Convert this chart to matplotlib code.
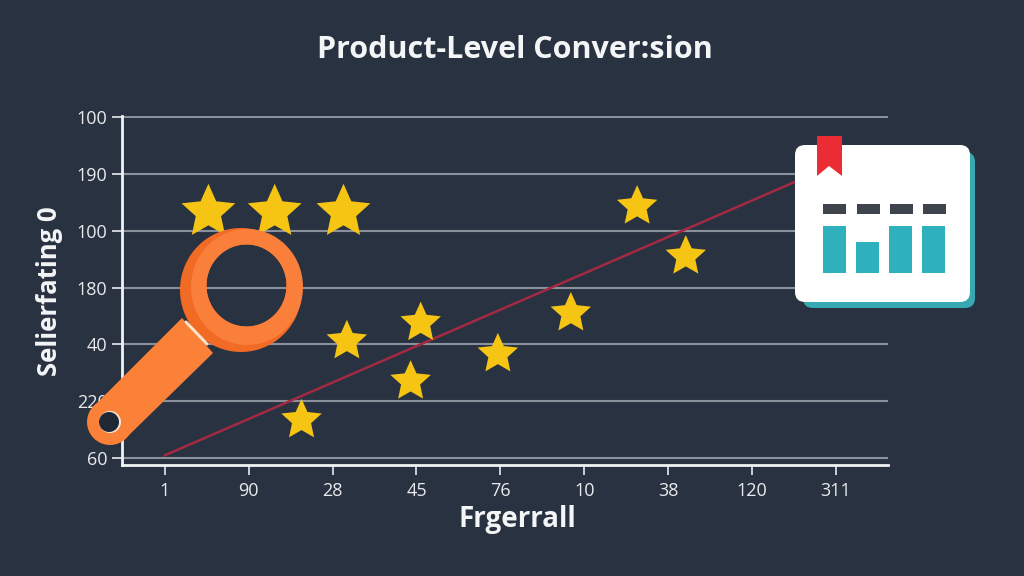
import numpy as np
import matplotlib
matplotlib.use("Agg")
import matplotlib.pyplot as plt
from matplotlib.patches import Circle, Polygon, FancyBboxPatch, Rectangle, PathPatch
from matplotlib.path import Path

# chart values, the axis labels are categories so they sit on index positions
x_labels = ['1', '90', '28', '45', '76', '10', '38', '120', '311']
y_labels = ['60', '220', '40', '180', '100', '190', '100']
star_x = [0.52, 1.31, 2.13, 2.17, 3.05, 2.93, 1.63, 3.97, 4.84, 5.63, 6.21]
star_y = [4.33, 4.33, 4.33, 2.06, 2.38, 1.35, 0.67, 1.83, 2.55, 4.43, 3.55]
trend_x = [0.0, 7.51]
trend_y = [0.05, 4.86]
icon_bars = [47, 31, 47, 47]

BG = '#293241'
plt.rcParams['font.family'] = ['Open Sans', 'DejaVu Sans']

fig = plt.figure(figsize=(10.24, 5.76), dpi=100, facecolor=BG)


def px_box(x0, y0, x1, y1):
    # pixel box (top-left origin) to figure fractions
    return [x0 / 1024, 1 - y1 / 576, (x1 - x0) / 1024, (y1 - y0) / 576]


# fatter than the built in '*' marker
ang = np.pi / 2 + np.arange(10) * np.pi / 5
rad = np.where(np.arange(10) % 2 == 0, 1.0, 0.47)
fat_star = Path(np.column_stack([rad * np.cos(ang), rad * np.sin(ang)]), closed=False)

ax = fig.add_axes(px_box(122, 116, 888, 465), facecolor=BG)
ax.set_xlim(-0.51, 8.62)
ax.set_ylim(-0.12, 6.02)

ax.set_yticks(range(len(y_labels)))
ax.set_yticklabels(y_labels)
ax.set_xticks(range(len(x_labels)))
ax.set_xticklabels(x_labels)
ax.tick_params(colors='#e8eaec', labelsize=13, length=7, width=1.2, pad=5)
ax.tick_params(axis='y', pad=3.5)
ax.grid(axis='y', color='#8b919b', lw=1.5)
ax.set_axisbelow(True)
for s in ['top', 'right']:
    ax.spines[s].set_visible(False)
for s in ['left', 'bottom']:
    ax.spines[s].set_color('#f2f3f4')
    ax.spines[s].set_linewidth(2)

ax.plot(trend_x, trend_y, color='#a32a42', lw=1.8, zorder=3, clip_on=False)
ax.scatter(star_x, star_y, marker=fat_star, color='#f6c413', zorder=4, linewidths=0,
           s=[1660, 1660, 1660, 940, 940, 940, 940, 940, 940, 940, 940], clip_on=False)

fig.text(515 / 1024, 1 - 50 / 576, 'Product-Level Conver:sion', color='#f4f5f6',
         fontsize=22, fontweight='bold', ha='center', va='center')
ax.set_xlabel('Frgerrall', color='#f4f5f6', fontsize=20, fontweight='bold')
ax.xaxis.set_label_coords((517 - 122) / 766, -(520 - 465) / 349, transform=ax.transAxes)
ax.xaxis.label.set_va('center')
ax.set_ylabel('Selierfating 0', color='#f4f5f6', fontsize=18.5, fontweight='bold')
ax.yaxis.set_label_coords(-(122 - 50) / 766, (465 - 291) / 349, transform=ax.transAxes)
ax.yaxis.label.set_va('center')

# illustration layer, pixel coordinates
over = fig.add_axes([0, 0, 1, 1], facecolor='none')
over.set_xlim(0, 1024)
over.set_ylim(576, 0)
over.axis('off')


def ring(cx, cy, rx, ry, hx, hy, hrx, hry, color, z):
    t = np.linspace(0, 2 * np.pi, 120)
    outer = np.column_stack([cx + rx * np.cos(t), cy + ry * np.sin(t)])
    inner = np.column_stack([hx + hrx * np.cos(t[::-1]), hy + hry * np.sin(t[::-1])])
    verts = np.vstack([outer, inner])
    codes = [Path.MOVETO] + [Path.LINETO] * 119 + [Path.MOVETO] + [Path.LINETO] * 119
    over.add_patch(PathPatch(Path(verts, codes), fc=color, ec='none', zorder=z))


# magnifier
over.add_patch(Polygon([(94, 406), (182, 318), (213, 353), (126, 438)], fc='#fb8038', ec='none', zorder=5))
over.add_patch(Circle((110, 422), 23, fc='#fb8038', ec='none', zorder=5))
over.add_patch(Circle((110, 422), 11, fc='#f7e6d8', ec='none', zorder=6))
over.add_patch(Circle((109, 422), 10, fc='#202835', ec='none', zorder=7))
ring(241, 290, 61, 62, 246.5, 285.5, 40, 41, '#f26b24', 6)
ring(247, 287, 56, 58, 246.5, 285.5, 40, 41, '#fa7f3b', 7)
over.plot([186, 207], [322, 344], color='#ffe3c8', lw=2.2, zorder=8, solid_capstyle='round')

# report card icon
over.add_patch(FancyBboxPatch((803, 152), 172, 156, boxstyle='round,pad=0,rounding_size=10',
                              fc='#37a9b3', ec='none', zorder=9))
over.add_patch(FancyBboxPatch((795, 145), 175, 157, boxstyle='round,pad=0,rounding_size=10',
                              fc='white', ec='none', zorder=10))
over.add_patch(Polygon([(817, 136), (842, 136), (842, 176), (829, 166), (817, 176)],
                       fc='#ec2c35', ec='none', zorder=11))
for dx in [823, 857, 890, 923]:
    over.add_patch(Rectangle((dx, 204), 23, 10, fc='#3f444c', ec='none', zorder=11))

inset = fig.add_axes(px_box(823, 226, 945, 273), facecolor='none', zorder=3)
inset.bar(range(len(icon_bars)), icon_bars, width=0.68, color='#2fb1bd')
inset.set_xlim(-0.34, len(icon_bars) - 1 + 0.34)
inset.set_ylim(0, max(icon_bars))
inset.axis('off')

fig.savefig('out.png', dpi=100, facecolor=BG)
